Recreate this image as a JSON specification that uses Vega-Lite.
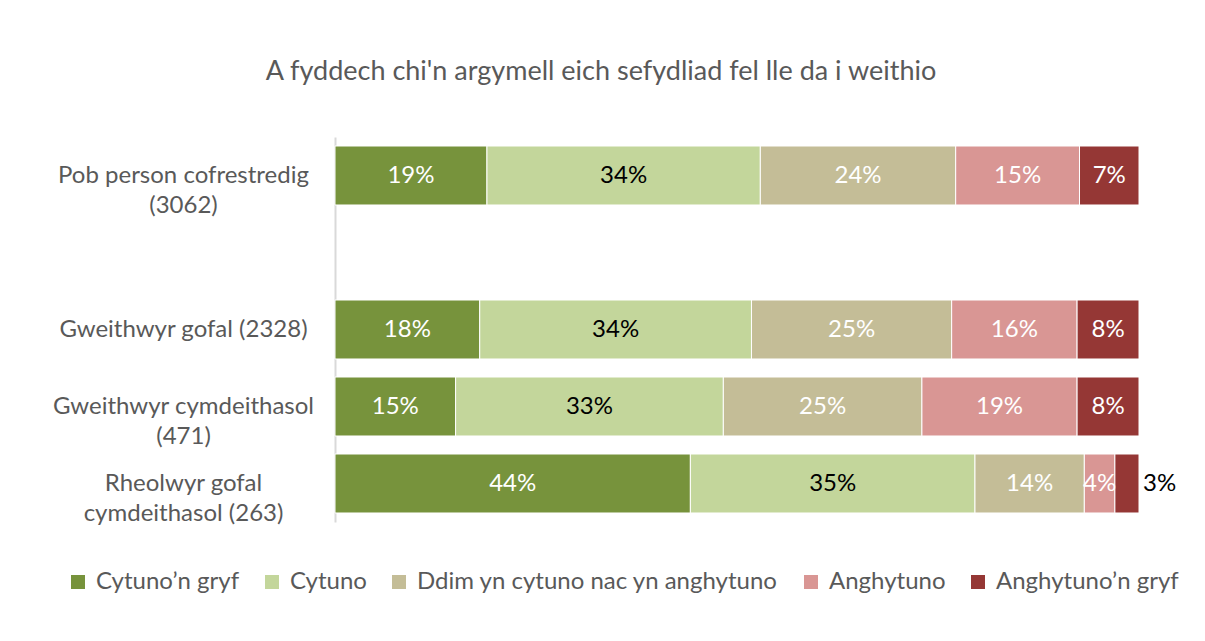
{
  "$schema": "https://vega.github.io/schema/vega-lite/v6.json",
  "width": 804,
  "height": 385,
  "padding": {"left": 52, "top": 58, "right": 10, "bottom": 10},
  "background": "white",
  "title": {
    "text": "A fyddech chi'n argymell eich sefydliad fel lle da i weithio",
    "fontSize": 27,
    "font": "Lato",
    "fontWeight": "normal",
    "color": "#595959",
    "frame": "group",
    "anchor": "middle",
    "dx": -136,
    "offset": 51
  },
  "data": {
    "values": [
      {"group": "Pob person cofrestredig|(3062)", "response": "Cytuno’n gryf", "ord": 1, "value": 0.189},
      {"group": "Pob person cofrestredig|(3062)", "response": "Cytuno", "ord": 2, "value": 0.340},
      {"group": "Pob person cofrestredig|(3062)", "response": "Ddim yn cytuno nac yn anghytuno", "ord": 3, "value": 0.243},
      {"group": "Pob person cofrestredig|(3062)", "response": "Anghytuno", "ord": 4, "value": 0.154},
      {"group": "Pob person cofrestredig|(3062)", "response": "Anghytuno’n gryf", "ord": 5, "value": 0.074},
      {"group": "Gweithwyr gofal (2328)", "response": "Cytuno’n gryf", "ord": 1, "value": 0.180},
      {"group": "Gweithwyr gofal (2328)", "response": "Cytuno", "ord": 2, "value": 0.338},
      {"group": "Gweithwyr gofal (2328)", "response": "Ddim yn cytuno nac yn anghytuno", "ord": 3, "value": 0.249},
      {"group": "Gweithwyr gofal (2328)", "response": "Anghytuno", "ord": 4, "value": 0.156},
      {"group": "Gweithwyr gofal (2328)", "response": "Anghytuno’n gryf", "ord": 5, "value": 0.077},
      {"group": "Gweithwyr cymdeithasol|(471)", "response": "Cytuno’n gryf", "ord": 1, "value": 0.150},
      {"group": "Gweithwyr cymdeithasol|(471)", "response": "Cytuno", "ord": 2, "value": 0.333},
      {"group": "Gweithwyr cymdeithasol|(471)", "response": "Ddim yn cytuno nac yn anghytuno", "ord": 3, "value": 0.247},
      {"group": "Gweithwyr cymdeithasol|(471)", "response": "Anghytuno", "ord": 4, "value": 0.193},
      {"group": "Gweithwyr cymdeithasol|(471)", "response": "Anghytuno’n gryf", "ord": 5, "value": 0.077},
      {"group": "Rheolwyr gofal|cymdeithasol (263)", "response": "Cytuno’n gryf", "ord": 1, "value": 0.442},
      {"group": "Rheolwyr gofal|cymdeithasol (263)", "response": "Cytuno", "ord": 2, "value": 0.354},
      {"group": "Rheolwyr gofal|cymdeithasol (263)", "response": "Ddim yn cytuno nac yn anghytuno", "ord": 3, "value": 0.136},
      {"group": "Rheolwyr gofal|cymdeithasol (263)", "response": "Anghytuno", "ord": 4, "value": 0.038},
      {"group": "Rheolwyr gofal|cymdeithasol (263)", "response": "Anghytuno’n gryf", "ord": 5, "value": 0.030}
    ]
  },
  "transform": [
    {"stack": "value", "groupby": ["group"], "sort": [{"field": "ord", "order": "ascending"}], "as": ["x0", "x1"]},
    {"calculate": "(datum.x0 + datum.x1) / 2", "as": "xm"}
  ],
  "encoding": {
    "y": {
      "field": "group",
      "type": "nominal",
      "scale": {
        "domain": ["Pob person cofrestredig|(3062)", "gap", "Gweithwyr gofal (2328)", "Gweithwyr cymdeithasol|(471)", "Rheolwyr gofal|cymdeithasol (263)"],
        "paddingInner": 0.234,
        "paddingOuter": 0.117
      },
      "axis": {
        "title": null,
        "labelExpr": "datum.value == 'gap' ? '' : split(datum.value, '|')",
        "labelAlign": "center",
        "labelPadding": 152,
        "labelFontSize": 24,
        "labelFont": "Lato",
        "labelColor": "#595959",
        "labelLineHeight": 30,
        "ticks": false,
        "domainColor": "#D9D9D9",
        "domainWidth": 2,
        "labelLimit": 400
      }
    }
  },
  "layer": [
    {
      "mark": {"type": "bar", "stroke": "white", "strokeWidth": 1},
      "encoding": {
        "x": {"field": "x0", "type": "quantitative", "scale": {"domain": [0, 1]}, "axis": null},
        "x2": {"field": "x1"},
        "color": {
          "field": "response",
          "type": "nominal",
          "scale": {
            "domain": ["Cytuno’n gryf", "Cytuno", "Ddim yn cytuno nac yn anghytuno", "Anghytuno", "Anghytuno’n gryf"],
            "range": ["#77933C", "#C3D69B", "#C4BD97", "#D99694", "#953735"]
          },
          "legend": {
            "title": null,
            "orient": "none",
            "legendX": -269,
            "legendY": 433,
            "direction": "horizontal",
            "symbolType": "square",
            "symbolSize": 196,
            "symbolStrokeWidth": 0,
            "labelFontSize": 24,
            "labelFont": "Lato",
            "labelColor": "#595959",
            "labelOffset": 6,
            "columnPadding": 20,
            "labelLimit": 500
          }
        },
        "order": {"field": "ord"}
      }
    },
    {
      "transform": [{"filter": "datum.value >= 0.035"}],
      "mark": {"type": "text", "fontSize": 24, "font": "Lato", "align": "center", "baseline": "middle"},
      "encoding": {
        "x": {"field": "xm", "type": "quantitative"},
        "text": {"field": "value", "type": "quantitative", "format": ".0%"},
        "color": {
          "condition": {"test": "datum.response == 'Cytuno'", "value": "#000000"},
          "value": "#FFFFFF"
        }
      }
    },
    {
      "transform": [{"filter": "datum.value < 0.035"}],
      "mark": {"type": "text", "fontSize": 24, "font": "Lato", "align": "left", "baseline": "middle", "dx": 4, "color": "#000000"},
      "encoding": {
        "x": {"field": "x1", "type": "quantitative"},
        "text": {"field": "value", "type": "quantitative", "format": ".0%"}
      }
    }
  ],
  "config": {"view": {"stroke": null}}
}
